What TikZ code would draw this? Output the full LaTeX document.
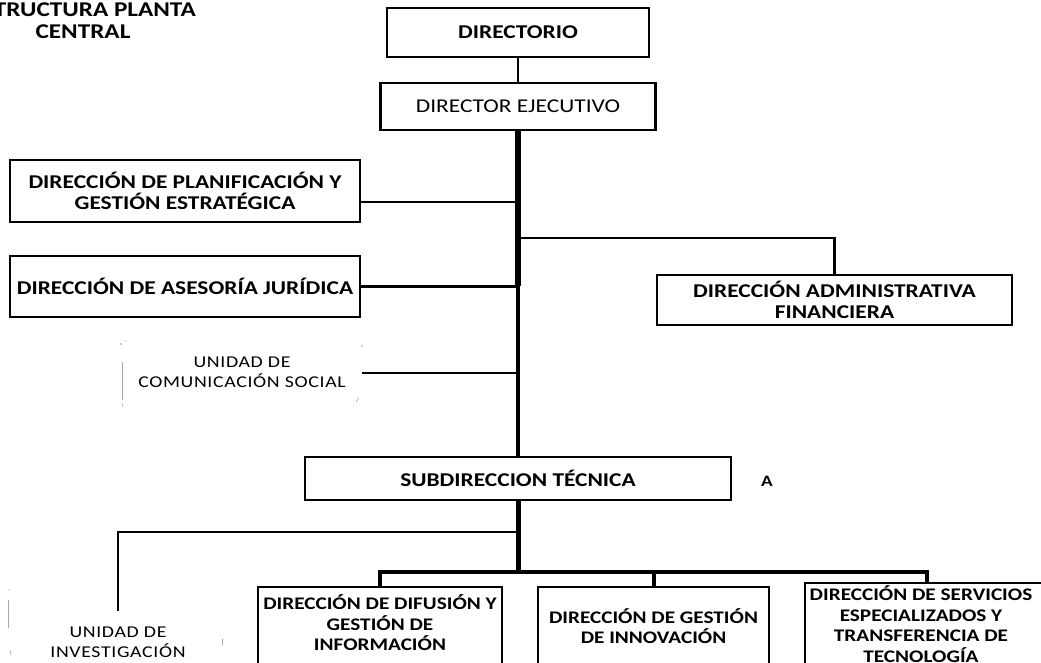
\documentclass[tikz,border=0pt]{standalone}
\usepackage{fontspec}
\setmainfont{Carlito}
\newfontfamily\cf[FakeStretch=1.2]{Carlito}
\newfontfamily\cfu[FakeStretch=1.2,LetterSpace=4]{Carlito}
\begin{document}
\begin{tikzpicture}[x=1pt,y=-1pt,
  box/.style={draw, line width=2.2pt, rectangle, inner sep=0pt, align=center},
  tb/.style={font={\cf\bfseries\fontsize{19.5}{21}\selectfont}},
  tr/.style={font={\cf\fontsize{19.5}{21}\selectfont}},
  sb/.style={font={\cf\bfseries\fontsize{17.7}{20.5}\selectfont}, align=center, inner sep=0pt},
  un/.style={font={\cfu\fontsize{16.5}{20}\selectfont}, align=center},
  conn/.style={line width=2.2pt},
  faint/.style={draw=black!35, line width=0.6pt}
]
\useasboundingbox (0,0) rectangle (1041,663);
\clip (0,0) rectangle (1041,663);
\fill[white] (0,0) rectangle (1041,663);

% title
\node[font={\cf\bfseries\fontsize{21}{22}\selectfont}, align=center, inner sep=0pt] (title) at (83,21) {ESTRUCTURA PLANTA\\CENTRAL};

% top boxes
\node[box, tb, minimum width=262pt, minimum height=49pt] (dir) at (518,32.5) {DIRECTORIO};
\node[box, tr, minimum width=275pt, minimum height=47pt] (dej) at (518,106.5) {DIRECTOR EJECUTIVO};
\node[box, tb, minimum width=350pt, minimum height=62pt] (plan) at (185,191) {DIRECCIÓN DE PLANIFICACIÓN Y\\GESTIÓN ESTRATÉGICA};
\node[box, tb, minimum width=350pt, minimum height=61pt] (ases) at (185,286.5) {DIRECCIÓN DE ASESORÍA JURÍDICA};
\node[box, tb, minimum width=355pt, minimum height=50pt] (admin) at (834.5,300) {DIRECCIÓN ADMINISTRATIVA\\FINANCIERA};
\node[un, minimum width=240pt, inner sep=0pt] (com) at (242,372) {UNIDAD DE\\COMUNICACIÓN SOCIAL};
\node[box, tb, minimum width=426pt, minimum height=43pt] (sub) at (518,478.5) {SUBDIRECCION TÉCNICA};
\node[font={\cf\bfseries\fontsize{16}{18}\selectfont}, inner sep=0pt] (a) at (767,481) {A};

% bottom boxes
\node[box, minimum width=244pt, minimum height=106pt] (dif) at (380,640) {};
\node[sb] (difT) at (380,623) {DIRECCIÓN DE DIFUSIÓN Y\\GESTIÓN DE\\INFORMACIÓN};
\node[box, minimum width=231pt, minimum height=106pt] (inn) at (653.5,640) {};
\node[sb] (innT) at (653.5,626) {DIRECCIÓN DE GESTIÓN\\DE INNOVACIÓN};
\node[box, minimum width=244pt, minimum height=110pt] (serv) at (927,638) {};
\node[sb] (servT) at (921,624) {DIRECCIÓN DE SERVICIOS\\ESPECIALIZADOS Y\\TRANSFERENCIA DE\\TECNOLOGÍA};
\node[un, inner ysep=15pt, inner xsep=0pt] (inv) at (118,642) {UNIDAD DE\\INVESTIGACIÓN};

% junctions
\coordinate (j1) at (518,202);
\coordinate (j2) at (518,238);
\coordinate (j3) at (518,286);
\coordinate (j4) at (518,373);
\coordinate (tj) at (518,532);
\coordinate (bj) at (518,572);

% connectors
\draw[line width=2.8pt] (dir.south) -- (dej.north);
\draw[line width=6pt] (dej.south) -- (j3);
\draw[line width=3.8pt] (j3) -- (sub.north);
\draw[conn] (plan.east |- j1) -- (j1);
\draw[conn] (j2) -| (admin.north);
\draw[conn] (ases.east) -- (ases.east -| j3);
\draw[line width=1.4pt] (com.east |- j4) -- (j4);
\draw[line width=5pt] (sub.south) -- (bj);
\draw[line width=1.2pt] (tj) -| (inv.north);
\draw[line width=4pt] (dif.north) |- (bj) -| (serv.north);
\draw[line width=4pt] (inn.north) -- (inn.north |- bj);

% faint remnants of frames
\draw[faint] (122,362) -- (122,400);
\draw[faint] (122,403) -- (123,407);
\fill[black!40] (121,344) circle (0.8pt) (126,341) circle (0.6pt) (362,346) circle (0.8pt);
\draw[faint] (356,402) -- (359,398);
\draw[faint] (8,600) -- (8,628);
\fill[black!40] (9,590) circle (0.7pt);
\draw[faint] (10,650) -- (11,655);
\draw[faint, line width=0.9pt] (222,639) -- (222,645);
\end{tikzpicture}
\end{document}
